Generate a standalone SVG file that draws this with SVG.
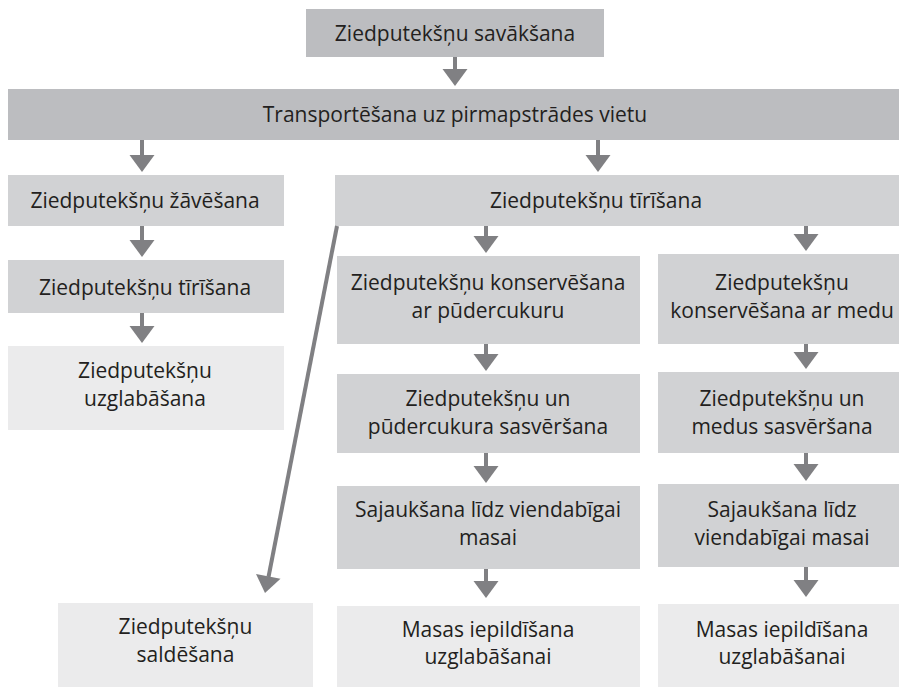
<svg xmlns="http://www.w3.org/2000/svg" width="899" height="687" viewBox="0 0 899 687">
<style>
.d{fill:#bcbdc0}
.m{fill:#d1d2d4}
.l{fill:#ebebec}
text{font-family:"Open Sans","Noto Sans",sans-serif;font-size:21px;fill:#231f20;text-anchor:middle}
.s{stroke:#808083;stroke-width:4;fill:none}
.h{fill:#808083}
</style>
<defs>
<g id="ah"><polygon class="h" points="-12.5,-17 12.5,-17 0,0"/></g>
</defs>
<rect width="899" height="687" fill="#ffffff"/>
<g id="n-collect"><rect class="d" x="306" y="9" width="298" height="48"/><text x="455" y="41">Ziedputekšņu savākšana</text></g>
<g id="n-transport"><rect class="d" x="8" y="89" width="891" height="51"/><text x="455" y="122">Transportēšana uz pirmapstrādes vietu</text></g>
<g id="n-dry"><rect class="m" x="8" y="175" width="276" height="51"/><text x="145" y="208">Ziedputekšņu žāvēšana</text></g>
<g id="n-clean-left"><rect class="m" x="8" y="260" width="276" height="53"/><text x="145" y="295">Ziedputekšņu tīrīšana</text></g>
<g id="n-store"><rect class="l" x="8" y="346" width="276" height="84"/><text x="145" y="378">Ziedputekšņu</text><text x="145" y="406">uzglabāšana</text></g>
<g id="n-clean-right"><rect class="m" x="335" y="175" width="564" height="51"/><text x="596" y="208">Ziedputekšņu tīrīšana</text></g>
<g id="n-sugar"><rect class="m" x="337" y="256" width="303" height="88"/><text x="488" y="290">Ziedputekšņu konservēšana</text><text x="488" y="318">ar pūdercukuru</text></g>
<g id="n-honey"><rect class="m" x="658" y="254" width="241" height="90"/><text x="782" y="290">Ziedputekšņu</text><text x="782" y="318">konservēšana ar medu</text></g>
<g id="n-weigh-sugar"><rect class="m" x="337" y="374" width="303" height="79"/><text x="488" y="406">Ziedputekšņu un</text><text x="488" y="434">pūdercukura sasvēršana</text></g>
<g id="n-weigh-honey"><rect class="m" x="658" y="372" width="241" height="81"/><text x="782" y="406">Ziedputekšņu un</text><text x="782" y="434">medus sasvēršana</text></g>
<g id="n-mix-sugar"><rect class="m" x="337" y="486" width="303" height="83"/><text x="488" y="517">Sajaukšana līdz viendabīgai</text><text x="488" y="545">masai</text></g>
<g id="n-mix-honey"><rect class="m" x="658" y="484" width="241" height="83"/><text x="782" y="517">Sajaukšana līdz</text><text x="782" y="545">viendabīgai masai</text></g>
<g id="n-fill-sugar"><rect class="l" x="337" y="606" width="303" height="81"/><text x="488" y="637">Masas iepildīšana</text><text x="488" y="664">uzglabāšanai</text></g>
<g id="n-fill-honey"><rect class="l" x="658" y="604" width="241" height="83"/><text x="782" y="637">Masas iepildīšana</text><text x="782" y="664">uzglabāšanai</text></g>
<g id="n-freeze"><rect class="l" x="58" y="603" width="255" height="84"/><text x="185.5" y="634">Ziedputekšņu</text><text x="185.5" y="662">saldēšana</text></g>
<g id="connectors">
<path class="s" d="M455 57V70M142 140V156M598 140V156M142 226V241M142 313V327M486 226V237M806 226V235M486 344V355M806 344V353M486 453V467M806 453V465M486 569V582M806 567V580"/>
<use href="#ah" x="455" y="86"/>
<use href="#ah" x="142" y="172"/>
<use href="#ah" x="598" y="172"/>
<use href="#ah" x="142" y="257"/>
<use href="#ah" x="142" y="343"/>
<use href="#ah" x="486" y="253"/>
<use href="#ah" x="806" y="251"/>
<use href="#ah" x="486" y="371"/>
<use href="#ah" x="806" y="369"/>
<use href="#ah" x="486" y="483"/>
<use href="#ah" x="806" y="481"/>
<use href="#ah" x="486" y="598"/>
<use href="#ah" x="806" y="597"/>
<path class="s" d="M337 226L268.5 577" stroke-width="3.5"/>
<polygon class="h" points="280.5,578.7 256,573.9 265,593"/>
</g>
</svg>
